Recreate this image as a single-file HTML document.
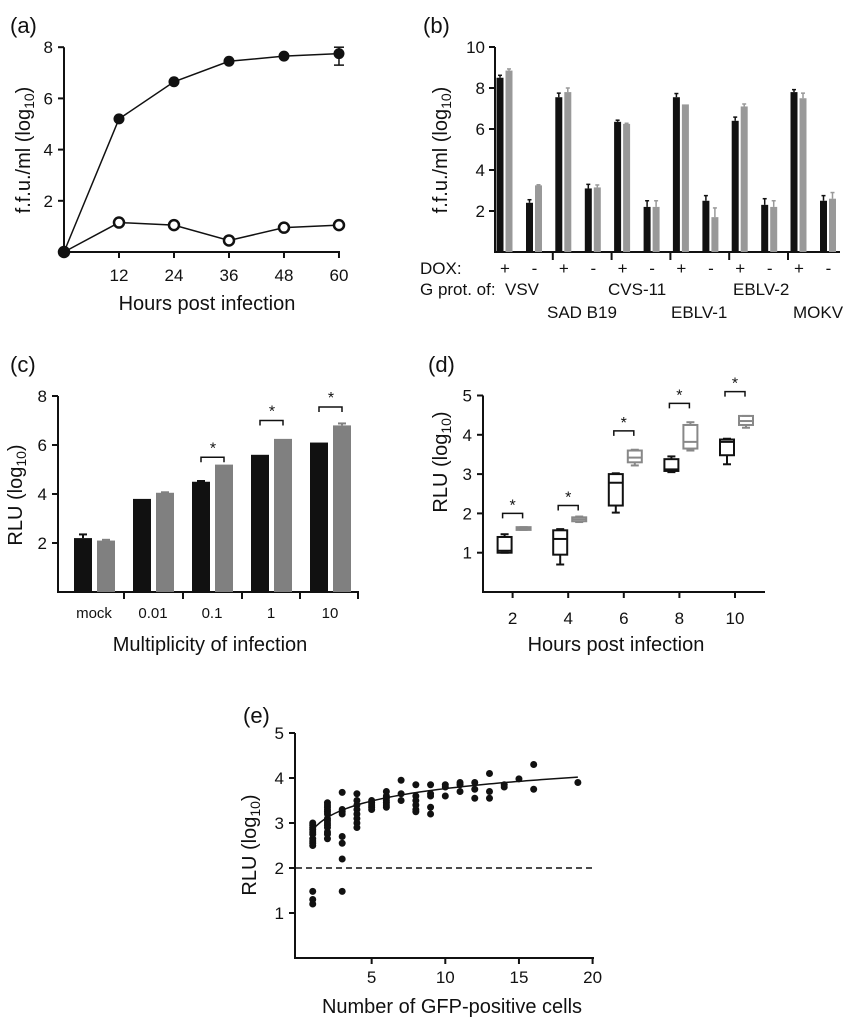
<!DOCTYPE html>
<html><head><meta charset="utf-8"><style>
html,body{margin:0;padding:0;background:#fff}
svg{display:block}
text{font-family:"Liberation Sans",Arial,sans-serif;fill:#111}
</style></head><body>
<svg id="fig" width="856" height="1024" viewBox="0 0 856 1024" xmlns="http://www.w3.org/2000/svg"></svg>
<script>
// ---- Panel (a) data
const aHours=[0,12,24,36,48,60];
const aDox=[0,5.2,6.65,7.45,7.65,7.75];
const aNoDox=[0,1.15,1.05,0.45,0.95,1.05];
const aErrLo=[0,0,0,0,0,7.3];
const aErrHi=[0,0,0,0,0,8.0];
const aXTicks=[12,24,36,48,60];
const aYTicks=[2,4,6,8];
// ---- Panel (b) data
const bGroups=["VSV","SAD B19","CVS-11","EBLV-1","EBLV-2","MOKV"];
const bPlusBlack=[8.5,7.55,6.35,7.55,6.4,7.8];
const bPlusGray=[8.85,7.8,6.25,7.2,7.1,7.5];
const bMinusBlack=[2.4,3.1,2.2,2.5,2.3,2.5];
const bMinusGray=[3.25,3.15,2.2,1.7,2.2,2.6];
const bPlusBlackErr=[0.12,0.2,0.08,0.18,0.18,0.12];
const bPlusGrayErr=[0.08,0.2,0.03,0,0.12,0.25];
const bMinusBlackErr=[0.15,0.2,0.3,0.25,0.3,0.25];
const bMinusGrayErr=[0.03,0.12,0.3,0.45,0.3,0.3];
const bYTicks=[2,4,6,8,10];
// ---- Panel (c) data
const cCats=["mock","0.01","0.1","1","10"];
const cBlack=[2.2,3.8,4.5,5.6,6.1];
const cGray=[2.1,4.05,5.2,6.25,6.8];
const cBlackErr=[0.15,0,0.03,0,0];
const cGrayErr=[0.03,0.02,0,0,0.08];
const cSig=[false,false,5.5,7.0,7.55];
const cYTicks=[2,4,6,8];
// ---- Panel (d) data
const dHours=[2,4,6,8,10];
const dBlackMin=[1.0,0.7,2.02,3.05,3.25];
const dBlackQ1=[1.0,0.95,2.2,3.08,3.48];
const dBlackMed=[1.05,1.35,2.78,3.12,3.82];
const dBlackQ3=[1.4,1.57,3.0,3.38,3.88];
const dBlackMax=[1.47,1.6,3.02,3.45,3.9];
const dGrayMin=[1.58,1.78,3.22,3.6,4.18];
const dGrayQ1=[1.58,1.8,3.3,3.65,4.25];
const dGrayMed=[1.62,1.85,3.42,3.82,4.35];
const dGrayQ3=[1.65,1.9,3.6,4.25,4.48];
const dGrayMax=[1.65,1.92,3.62,4.32,4.48];
const dSig=[2.0,2.2,4.1,4.8,5.1];
const dYTicks=[1,2,3,4,5];
// ---- Panel (e) data
const eX=[1,1,1,1,1,1,1,1,1,1,1,1,1, 2,2,2,2,2,2,2,2,2,2,2,2,2,2, 3,3,3,3,3,3,3,3, 4,4,4,4,4,4,4,4, 5,5,5,5,5, 6,6,6,6,6,6,6, 7,7,7, 8,8,8,8,8,8, 9,9,9,9,9, 10,10,10, 11,11,11, 12,12,12, 13,13,13, 14,14, 15, 16,16, 19];
const eY=[3.0,2.95,2.9,2.85,2.8,2.75,2.65,2.6,2.55,2.5,1.48,1.3,1.2, 3.45,3.4,3.35,3.3,3.25,3.2,3.1,3.05,3.0,2.95,2.9,2.8,2.75,2.65, 3.68,3.3,3.25,3.2,2.7,2.55,2.2,1.48, 3.65,3.5,3.4,3.3,3.2,3.1,3.0,2.9, 3.5,3.45,3.4,3.35,3.3, 3.7,3.6,3.55,3.5,3.45,3.4,3.35, 3.95,3.65,3.5, 3.85,3.6,3.5,3.4,3.3,3.25, 3.85,3.65,3.6,3.35,3.2, 3.85,3.8,3.6, 3.9,3.85,3.7, 3.9,3.75,3.55, 4.1,3.7,3.55, 3.85,3.8, 3.98, 4.3,3.75, 3.9];
const eFitA=2.85, eFitB=0.397;
const eXTicks=[5,10,15,20];
const eYTicks=[1,2,3,4,5];

const TK=17, TT=20, PL=22;
const NS="http://www.w3.org/2000/svg";
const svg=document.getElementById('fig');
function el(tag,attrs,parent,txt){const e=document.createElementNS(NS,tag);for(const k in attrs)e.setAttribute(k,attrs[k]);if(txt!==undefined)e.textContent=txt;(parent||svg).appendChild(e);return e;}
function grp(name){const g=el('g',{});


return g;}
function line(p,x1,y1,x2,y2,w,c,dash){const a={x1,y1,x2,y2,stroke:c||'#111','stroke-width':w||2};if(dash)a['stroke-dasharray']=dash;return el('line',a,p);}
function text(p,x,y,s,size,anchor,extra){const a=Object.assign({x,y,'font-size':size||TK,'text-anchor':anchor||'middle'},extra||{});return el('text',a,p,s);}
function ylab(p,cx,cy,main,size){const t=el('text',{transform:`translate(${cx},${cy}) rotate(-90)`,'text-anchor':'middle','font-size':size||TT},p);t.textContent=main+' (log';el('tspan',{'font-size':(size||TT)*0.7,dy:4},t,'10');el('tspan',{dy:-4},t,')');return t;}

// ================= Panel A
(function(){
const g=grp('panel-a');
const X=v=>64+v*4.583, Y=v=>252-v*25.6;
text(g,10,33,'(a)',PL,'start');
line(g,64,Y(8),64,253,2);line(g,63,252,340,252,2);
aYTicks.forEach(t=>{line(g,58,Y(t),64,Y(t),2);text(g,53,Y(t)+6,t,TK,'end');});
aXTicks.forEach(t=>{line(g,X(t),252,X(t),258,2);text(g,X(t),281,t,TK);});
text(g,207,310,'Hours post infection',TT);
ylab(g,30,150,'f.f.u./ml',TT);
el('polyline',{points:aHours.map((h,i)=>X(h)+','+Y(aDox[i])).join(' '),fill:'none',stroke:'#111','stroke-width':1.5},g);
el('polyline',{points:aHours.map((h,i)=>X(h)+','+Y(aNoDox[i])).join(' '),fill:'none',stroke:'#111','stroke-width':1.5},g);
aHours.forEach((h,i)=>{if(aErrHi[i]>0){line(g,X(h),Y(aErrLo[i]),X(h),Y(aErrHi[i]),1.5);line(g,X(h)-5,Y(aErrLo[i]),X(h)+5,Y(aErrLo[i]),1.5);line(g,X(h)-5,Y(aErrHi[i]),X(h)+5,Y(aErrHi[i]),1.5);}});
aHours.forEach((h,i)=>{const c=el('circle',{cx:X(h),cy:Y(aNoDox[i]),r:5,fill:'#fff',stroke:'#111','stroke-width':2.5},g);

});
aHours.forEach((h,i)=>{const c=el('circle',{cx:X(h),cy:Y(aDox[i]),r:5.5,fill:'#111'},g);

});
})();

// ================= Panel B
(function(){
const g=grp('panel-b');
const Y=v=>252-v*20.5;
const G0=495, GW=58.8;
text(g,423,33,'(b)',PL,'start');
line(g,495,Y(10),495,253,2);line(g,494,252,840,252,2);
bYTicks.forEach(t=>{line(g,489,Y(t),495,Y(t),2);text(g,485,Y(t)+6,t,TK,'end');});
for(let i=1;i<bGroups.length;i++){line(g,G0+i*GW-1,252,G0+i*GW-1,260,2);}
text(g,420,274,'DOX:',TK,'start');
text(g,420,295,'G prot. of:',TK,'start');
ylab(g,447,150,'f.f.u./ml',TT);
const bar=(x,v,e,col,name)=>{const r=el('rect',{x:x,y:Y(v),width:7,height:252-Y(v),fill:col},g);


if(e>0){line(g,x+3.5,Y(v),x+3.5,Y(v+e),1.5,col);line(g,x+1.5,Y(v+e),x+5.5,Y(v+e),1.5,col);}};
const labX=[505,547,608,671,733,793];
bGroups.forEach((name,i)=>{
  const base=G0+i*GW;
  const cp=base+10, cm=base+39.5;
  bar(cp-8.5,bPlusBlack[i],bPlusBlackErr[i],'#111','b-bar-dox-black');
  bar(cp+0.5,bPlusGray[i],bPlusGrayErr[i],'#999','b-bar-dox-gray');
  bar(cm-8.5,bMinusBlack[i],bMinusBlackErr[i],'#111','b-bar-nodox-black');
  bar(cm+0.5,bMinusGray[i],bMinusGrayErr[i],'#999','b-bar-nodox-gray');
  text(g,cp,274,'+',TK);text(g,cm,274,'-',TK);
  text(g,labX[i],i%2===0?295:318,name,TK,'start');
});
})();

// ================= Panel C
(function(){
const g=grp('panel-c');
const Y=v=>592-v*24.5;
text(g,10,372,'(c)',PL,'start');
line(g,58,Y(8),58,593,2);line(g,57,592,359,592,2);
cYTicks.forEach(t=>{line(g,52,Y(t),58,Y(t),2);text(g,47,Y(t)+6,t,TK,'end');});
[124,183,242,300,358].forEach(x=>line(g,x,592,x,599,2));
text(g,210,651,'Multiplicity of infection',TT);
ylab(g,22,495,'RLU',TT);
cCats.forEach((c,i)=>{
  const cx=94+i*59;
  const r1=el('rect',{x:cx-20,y:Y(cBlack[i]),width:18,height:592-Y(cBlack[i]),fill:'#111'},g);
  
  
  const r2=el('rect',{x:cx+3,y:Y(cGray[i]),width:18,height:592-Y(cGray[i]),fill:'#808080'},g);
  
  
  if(cBlackErr[i]>0){line(g,cx-11,Y(cBlack[i]),cx-11,Y(cBlack[i]+cBlackErr[i]),2);line(g,cx-15,Y(cBlack[i]+cBlackErr[i]),cx-7,Y(cBlack[i]+cBlackErr[i]),2);}
  if(cGrayErr[i]>0){line(g,cx+12,Y(cGray[i]),cx+12,Y(cGray[i]+cGrayErr[i]),2,'#808080');line(g,cx+8,Y(cGray[i]+cGrayErr[i]),cx+16,Y(cGray[i]+cGrayErr[i]),2,'#808080');}
  text(g,cx,618,c,15);
  if(cSig[i]){const sy=Y(cSig[i]);el('path',{d:`M${cx-11},${sy+5}V${sy}H${cx+12}V${sy+5}`,fill:'none',stroke:'#111','stroke-width':1.5},g);text(g,cx+1,sy-4,'*',16);}
});
})();

// ================= Panel D
(function(){
const g=grp('panel-d');
const X=h=>457+h*27.8, Y=v=>592-v*39.3;
text(g,428,372,'(d)',PL,'start');
line(g,483,Y(5),483,593,2);line(g,482,592,765,592,2);
dYTicks.forEach(t=>{line(g,477,Y(t),483,Y(t),2);text(g,472,Y(t)+6,t,TK,'end');});
dHours.forEach(h=>{line(g,X(h),592,X(h),598,2);text(g,X(h),624,h,TK);});
text(g,616,651,'Hours post infection',TT);
ylab(g,447,462,'RLU',TT);
const box=(cx,mn,q1,md,q3,mx,col,name)=>{const b=grp(name);g.appendChild(b);
  el('rect',{x:cx-7,y:Y(q3),width:14,height:Math.max(Y(q1)-Y(q3),1),fill:'none',stroke:col,'stroke-width':2},b);
  line(b,cx-7,Y(md),cx+7,Y(md),2,col);
  line(b,cx,Y(q3),cx,Y(mx),2,col);line(b,cx-4,Y(mx),cx+4,Y(mx),2,col);
  line(b,cx,Y(q1),cx,Y(mn),2,col);line(b,cx-4,Y(mn),cx+4,Y(mn),2,col);};
dHours.forEach((h,i)=>{
  box(X(h)-8,dBlackMin[i],dBlackQ1[i],dBlackMed[i],dBlackQ3[i],dBlackMax[i],'#111','d-box-black');
  box(X(h)+11,dGrayMin[i],dGrayQ1[i],dGrayMed[i],dGrayQ3[i],dGrayMax[i],'#888','d-box-gray');
  const sy=Y(dSig[i]);el('path',{d:`M${X(h)-10},${sy+5}V${sy}H${X(h)+10}V${sy+5}`,fill:'none',stroke:'#111','stroke-width':1.5},g);
  text(g,X(h),sy-3,'*',16);
});
})();

// ================= Panel E
(function(){
const g=grp('panel-e');
const X=v=>298+v*14.73, Y=v=>958-v*45;
text(g,243,723,'(e)',PL,'start');
line(g,295,Y(5),295,959,2);line(g,294,958,594,958,2);
eYTicks.forEach(t=>{line(g,289,Y(t),295,Y(t),2);text(g,284,Y(t)+6,t,TK,'end');});
eXTicks.forEach(t=>{line(g,X(t),958,X(t),964,2);text(g,X(t),983,t,TK);});
text(g,452,1013,'Number  of GFP-positive cells',TT);
ylab(g,256,845,'RLU',TT);
line(g,296,Y(2),594,Y(2),1.5,'#111','6,4');
let pts=[];for(let x=1;x<=19;x+=0.25){pts.push(X(x)+','+Y(eFitA+eFitB*Math.log(x)));}
const fit=el('polyline',{points:pts.join(' '),fill:'none',stroke:'#111','stroke-width':1.5},g);


eX.forEach((x,i)=>{const c=el('circle',{cx:X(x),cy:Y(eY[i]),r:3.5,fill:'#111'},g);

});
})();
</script>
</body></html>
